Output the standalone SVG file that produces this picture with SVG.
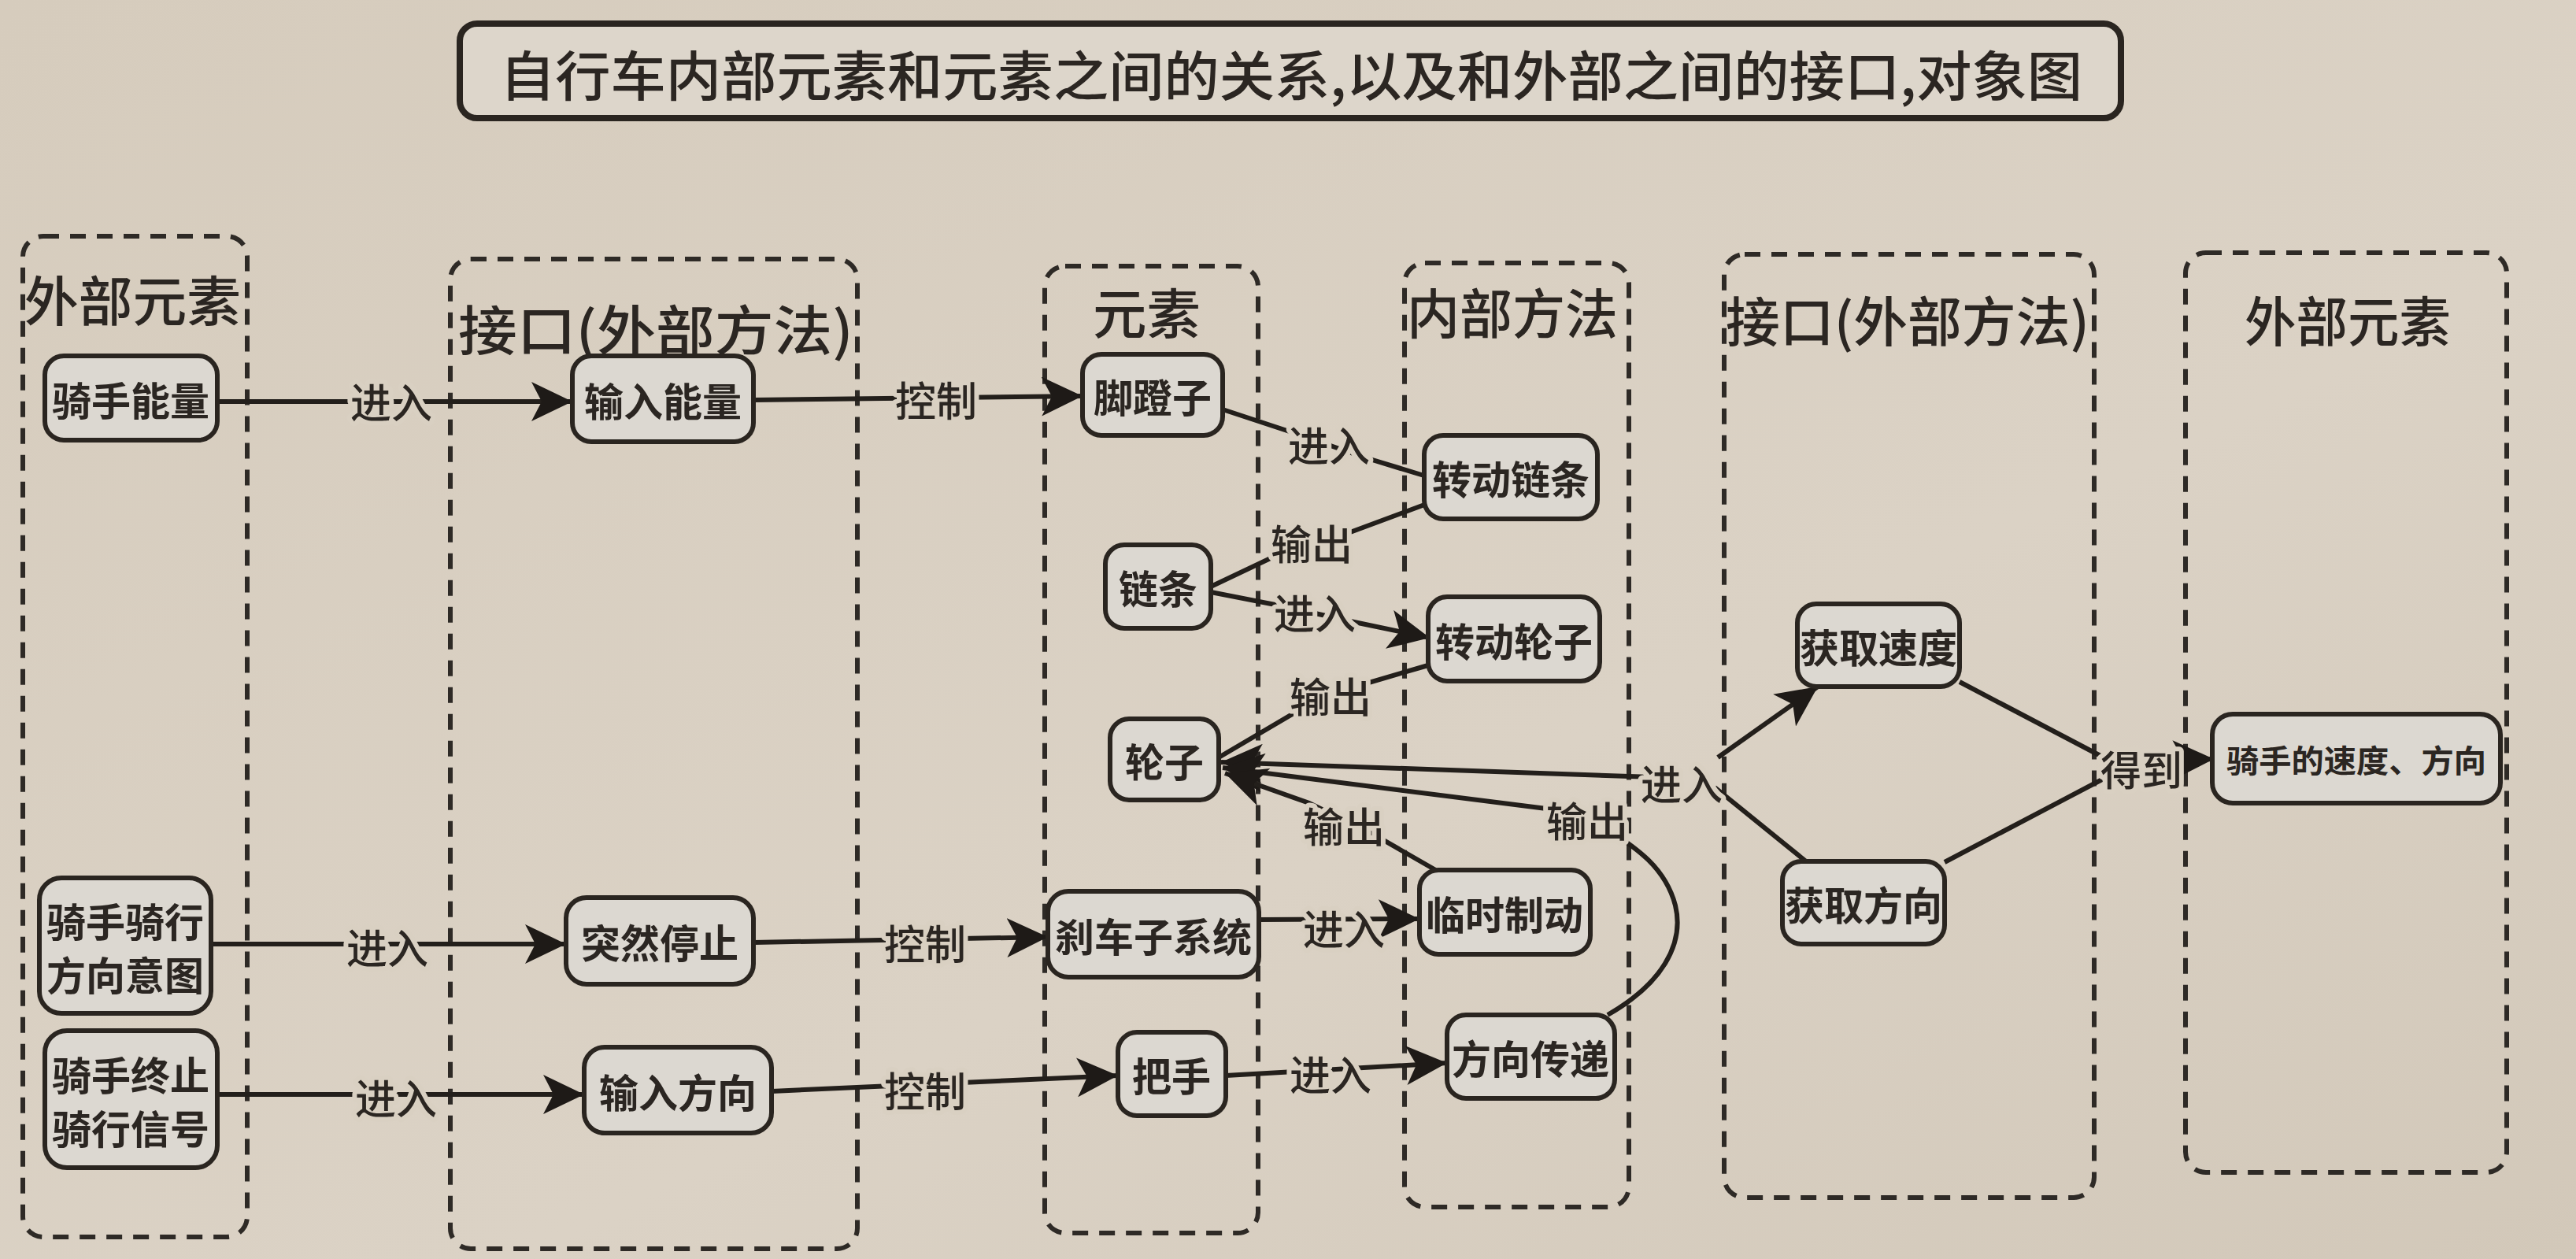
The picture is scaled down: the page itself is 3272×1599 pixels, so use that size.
<svg xmlns="http://www.w3.org/2000/svg" width="3272" height="1599" viewBox="0 0 3272 1599">
<defs>
  <linearGradient id="paper" x1="0" y1="0" x2="1" y2="1">
    <stop offset="0" stop-color="#d6ccbd"/>
    <stop offset="0.6" stop-color="#dbd2c5"/>
    <stop offset="1" stop-color="#d2c8b9"/>
  </linearGradient>
  <marker id="arr" markerUnits="userSpaceOnUse" markerWidth="54" markerHeight="50" refX="52" refY="25" orient="auto">
    <path d="M0,0 L52,25 L0,50 L13,25 z" fill="#1e1a17"/>
  </marker>
</defs>
<style>
  .cont { fill: none; stroke: #2e2a26; stroke-width: 6; stroke-dasharray: 20 14; }
  .ctitle { font-family: "Noto Sans CJK SC", "Noto Sans", sans-serif; font-size: 68px; font-weight: 500; fill: #2b2622; }
  .node rect { fill: #dcd8d1; stroke: #2a2520; stroke-width: 6; }
  .node text { font-family: "Noto Sans CJK SC", "Noto Sans", sans-serif; font-size: 50px; font-weight: bold; fill: #2b2622; text-anchor: middle; dominant-baseline: central; }
  .edge { fill: none; stroke: #231f1b; stroke-width: 6; }
  .lbl { font-family: "Noto Sans CJK SC", "Noto Sans", sans-serif; font-size: 52px; font-weight: 500; fill: #2b2622; text-anchor: middle; dominant-baseline: central; paint-order: stroke; stroke: #d9d0c2; stroke-width: 12px; stroke-linejoin: round; }
</style>
<rect x="0" y="0" width="3272" height="1599" fill="url(#paper)"/>

<!-- Title -->
<g id="title">
  <rect x="584" y="30" width="2110" height="120" rx="22" fill="#ddd6cb" stroke="#2a2520" stroke-width="8"/>
  <text x="1640" y="92" font-family="'Noto Sans CJK SC', 'Noto Sans', sans-serif" font-size="68" font-weight="500" fill="#2b2622" text-anchor="middle" dominant-baseline="central" textLength="2010" lengthAdjust="spacingAndGlyphs">自行车内部元素和元素之间的关系,以及和外部之间的接口,对象图</text>
</g>

<!-- Containers -->
<g id="container-external-left">
  <rect class="cont" x="29" y="300" width="285" height="1271" rx="26"/>
  <text class="ctitle" x="31" y="408" textLength="275" lengthAdjust="spacingAndGlyphs">外部元素</text>
</g>
<g id="container-interface-left">
  <rect class="cont" x="572" y="329" width="517" height="1257" rx="26"/>
  <text class="ctitle" x="582" y="445" textLength="502" lengthAdjust="spacingAndGlyphs">接口(外部方法)</text>
</g>
<g id="container-elements">
  <rect class="cont" x="1327" y="338" width="271" height="1228" rx="26"/>
  <text class="ctitle" x="1388" y="424" textLength="137" lengthAdjust="spacingAndGlyphs">元素</text>
</g>
<g id="container-internal">
  <rect class="cont" x="1784" y="334" width="285" height="1199" rx="26"/>
  <text class="ctitle" x="1787" y="424" textLength="268" lengthAdjust="spacingAndGlyphs">内部方法</text>
</g>
<g id="container-interface-right">
  <rect class="cont" x="2190" y="323" width="470" height="1198" rx="26"/>
  <text class="ctitle" x="2192" y="434" textLength="462" lengthAdjust="spacingAndGlyphs">接口(外部方法)</text>
</g>
<g id="container-external-right">
  <rect class="cont" x="2776" y="321" width="408" height="1168" rx="26"/>
  <text class="ctitle" x="2851" y="434" textLength="262" lengthAdjust="spacingAndGlyphs">外部元素</text>
</g>

<!-- Connectors -->
<g id="connectors">
  <!-- 骑手能量 -> 输入能量 -->
  <line class="edge" x1="276" y1="510" x2="727" y2="510" marker-end="url(#arr)"/>
  <text class="lbl" x="497" y="508">进入</text>
  <!-- 输入能量 -> 脚蹬子 -->
  <line class="edge" x1="957" y1="508" x2="1375" y2="503" marker-end="url(#arr)"/>
  <text class="lbl" x="1189" y="506">控制</text>
  <!-- 脚蹬子 -> 转动链条 -->
  <polyline class="edge" points="1553,520 1650,552 1730,580 1812,605"/>
  <text class="lbl" x="1688" y="563">进入</text>
  <!-- 转动链条 -> 链条 -->
  <polyline class="edge" points="1812,640 1715,676 1620,706 1538,745"/>
  <text class="lbl" x="1666" y="688">输出</text>
  <!-- 链条 -> 转动轮子 -->
  <polyline class="edge" points="1538,752 1630,770 1720,790 1816,810" marker-end="url(#arr)"/>
  <text class="lbl" x="1670" y="776">进入</text>
  <!-- 转动轮子 -> 轮子 -->
  <polyline class="edge" points="1814,845 1735,868 1645,905 1548,962"/>
  <text class="lbl" x="1690" y="882">输出</text>
  <!-- 进入 junction -> 轮子 -->
  <line class="edge" x1="2100" y1="987" x2="1551" y2="968" marker-end="url(#arr)"/>
  <line class="edge" x1="2182" y1="962" x2="2309" y2="872" marker-end="url(#arr)"/>
  <line class="edge" x1="2178" y1="1000" x2="2294" y2="1094"/>
  <text class="lbl" x="2136" y="993">进入</text>
  <!-- 方向传递 -> 轮子 (输出) -->
  <path class="edge" d="M2042,1289 C2110,1250 2140,1200 2128,1150 C2115,1100 2075,1075 2040,1052"/>
  <line class="edge" x1="1972" y1="1028" x2="1553" y2="975" marker-end="url(#arr)"/>
  <text class="lbl" x="2016" y="1040">输出</text>
  <!-- 临时制动 -> 轮子 (输出) -->
  <polyline class="edge" points="1827,1107 1745,1060 1663,1020 1556,982" marker-end="url(#arr)"/>
  <text class="lbl" x="1707" y="1047">输出</text>
  <!-- 刹车子系统 -> 临时制动 -->
  <line class="edge" x1="1599" y1="1168" x2="1803" y2="1167" marker-end="url(#arr)"/>
  <text class="lbl" x="1707" y="1177">进入</text>
  <!-- 把手 -> 方向传递 -->
  <line class="edge" x1="1557" y1="1366" x2="1838" y2="1350" marker-end="url(#arr)"/>
  <text class="lbl" x="1690" y="1362">进入</text>
  <!-- 突然停止 -> 刹车子系统 -->
  <line class="edge" x1="957" y1="1197" x2="1331" y2="1190" marker-end="url(#arr)"/>
  <text class="lbl" x="1175" y="1196">控制</text>
  <!-- 输入方向 -> 把手 -->
  <line class="edge" x1="980" y1="1386" x2="1420" y2="1366" marker-end="url(#arr)"/>
  <text class="lbl" x="1175" y="1383">控制</text>
  <!-- 骑手骑行方向意图 -> 突然停止 -->
  <line class="edge" x1="268" y1="1199" x2="719" y2="1199" marker-end="url(#arr)"/>
  <text class="lbl" x="492" y="1201">进入</text>
  <!-- 骑手终止骑行信号 -> 输入方向 -->
  <line class="edge" x1="276" y1="1390" x2="742" y2="1390" marker-end="url(#arr)"/>
  <text class="lbl" x="503" y="1392">进入</text>
  <!-- 获取速度 / 获取方向 -> 骑手的速度、方向 -->
  <line class="edge" x1="2489" y1="866" x2="2672" y2="962"/>
  <line class="edge" x1="2470" y1="1095" x2="2670" y2="990"/>
  <line class="edge" x1="2770" y1="965" x2="2812" y2="964" marker-end="url(#arr)"/>
  <text class="lbl" x="2720" y="975">得到</text>
</g>

<!-- Nodes -->
<g id="node-rider-energy" class="node">
  <rect x="57" y="452" width="219" height="107" rx="24"/>
  <text x="166" y="506">骑手能量</text>
</g>
<g id="node-input-energy" class="node">
  <rect x="727" y="452" width="230" height="109" rx="24"/>
  <text x="842" y="507">输入能量</text>
</g>
<g id="node-pedal" class="node">
  <rect x="1375" y="450" width="178" height="103" rx="24"/>
  <text x="1464" y="502">脚蹬子</text>
</g>
<g id="node-turn-chain" class="node">
  <rect x="1809" y="553" width="220" height="106" rx="24"/>
  <text x="1919" y="606">转动链条</text>
</g>
<g id="node-chain" class="node">
  <rect x="1404" y="692" width="134" height="106" rx="24"/>
  <text x="1471" y="745">链条</text>
</g>
<g id="node-turn-wheel" class="node">
  <rect x="1814" y="758" width="218" height="107" rx="24"/>
  <text x="1923" y="812">转动轮子</text>
</g>
<g id="node-wheel" class="node">
  <rect x="1410" y="913" width="138" height="103" rx="24"/>
  <text x="1479" y="965">轮子</text>
</g>
<g id="node-get-speed" class="node">
  <rect x="2283" y="767" width="206" height="105" rx="24"/>
  <text x="2386" y="820">获取速度</text>
</g>
<g id="node-get-direction" class="node">
  <rect x="2264" y="1094" width="206" height="105" rx="24"/>
  <text x="2367" y="1147">获取方向</text>
</g>
<g id="node-rider-speed-direction" class="node">
  <rect x="2810" y="907" width="366" height="113" rx="26"/>
  <text x="2993" y="964" style="font-size:40px" textLength="330" lengthAdjust="spacingAndGlyphs">骑手的速度、方向</text>
</g>
<g id="node-rider-intent" class="node">
  <rect x="50" y="1115" width="218" height="172" rx="28"/>
  <text x="159" y="1168">骑手骑行</text>
  <text x="159" y="1236">方向意图</text>
</g>
<g id="node-rider-stop" class="node">
  <rect x="57" y="1309" width="219" height="174" rx="28"/>
  <text x="166" y="1363">骑手终止</text>
  <text x="166" y="1431">骑行信号</text>
</g>
<g id="node-sudden-stop" class="node">
  <rect x="719" y="1140" width="238" height="110" rx="26"/>
  <text x="838" y="1195">突然停止</text>
</g>
<g id="node-input-direction" class="node">
  <rect x="742" y="1330" width="238" height="109" rx="26"/>
  <text x="861" y="1385">输入方向</text>
</g>
<g id="node-brake" class="node">
  <rect x="1331" y="1132" width="268" height="109" rx="26"/>
  <text x="1465" y="1187">刹车子系统</text>
</g>
<g id="node-temp-brake" class="node">
  <rect x="1803" y="1105" width="217" height="107" rx="24"/>
  <text x="1911" y="1159">临时制动</text>
</g>
<g id="node-handlebar" class="node">
  <rect x="1420" y="1311" width="137" height="106" rx="24"/>
  <text x="1488" y="1364">把手</text>
</g>
<g id="node-direction-transfer" class="node">
  <rect x="1838" y="1289" width="213" height="106" rx="24"/>
  <text x="1944" y="1342">方向传递</text>
</g>
</svg>
